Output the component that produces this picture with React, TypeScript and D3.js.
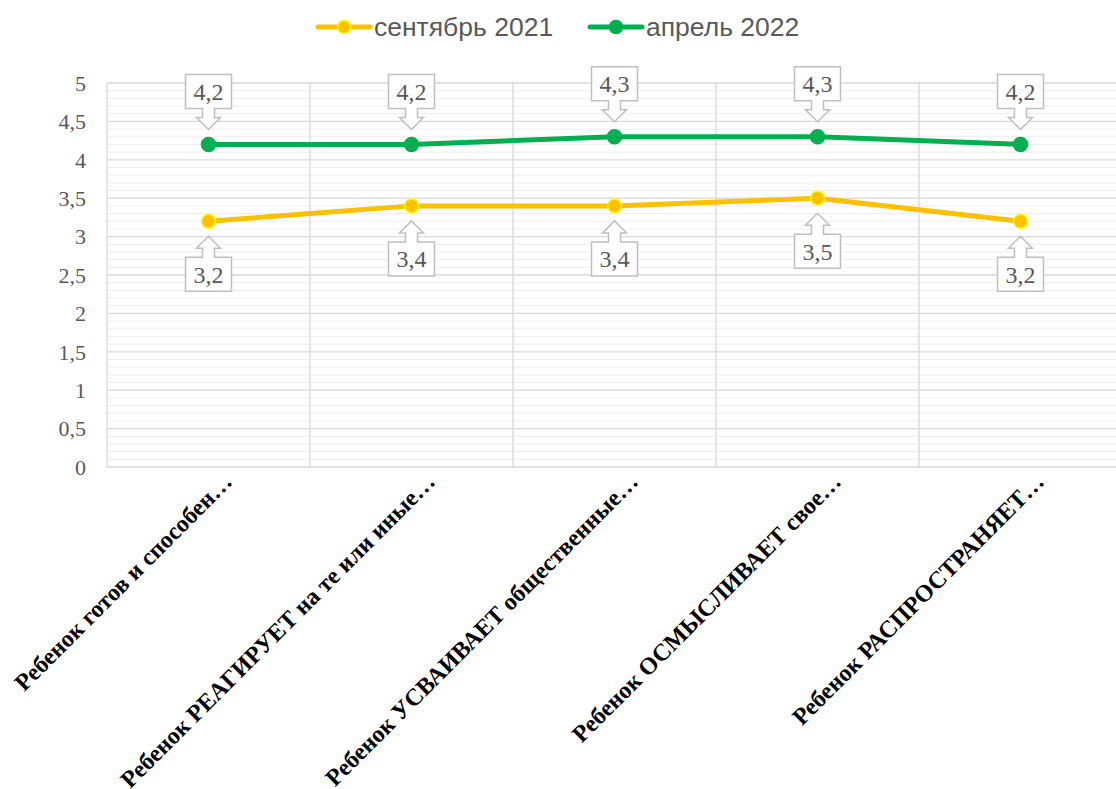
import React from "react";
import * as d3 from "d3";

const categories = [
  "Ребенок готов и способен…",
  "Ребенок РЕАГИРУЕТ на те или иные…",
  "Ребенок УСВАИВАЕТ общественные…",
  "Ребенок ОСМЫСЛИВАЕТ свое…",
  "Ребенок РАСПРОСТРАНЯЕТ…",
];
const sep2021 = [3.2, 3.4, 3.4, 3.5, 3.2];
const apr2022 = [4.2, 4.2, 4.3, 4.3, 4.2];
const yTicks = [0, 0.5, 1, 1.5, 2, 2.5, 3, 3.5, 4, 4.5, 5];
const seriesNames = ["сентябрь 2021", "апрель 2022"];

const W = 1116;
const H = 789;

export default function App() {
  const x = d3.scaleBand<string>().domain(categories).range([107, 1122]);
  const y = d3.scaleLinear().domain([0, 5]).range([467, 83]);
  const cx = (c: string) => (x(c) as number) + x.bandwidth() / 2;
  const line = d3
    .line<number>()
    .x((_, i) => cx(categories[i]))
    .y((d) => y(d));
  const minor = d3.range(0, 50).map((i) => i / 10).filter((v) => Math.round(v * 10) % 5 !== 0);
  const fmt = (v: number) => String(v).replace(".", ",");

  const callout = (px: number, py: number, up: boolean) => {
    const s = up ? -1 : 1;
    const tip = py + s * 15;
    const headEnd = tip + s * 12;
    const boxNear = headEnd + s * 9;
    const boxFar = boxNear + s * 34;
    const bw = 23, hw = 12, sw = 6;
    const d = [
      [px - bw, boxFar], [px + bw, boxFar], [px + bw, boxNear], [px + sw, boxNear],
      [px + sw, headEnd], [px + hw, headEnd], [px, tip], [px - hw, headEnd],
      [px - sw, headEnd], [px - sw, boxNear], [px - bw, boxNear],
    ];
    const path = "M" + d.map((p) => p.join(",")).join("L") + "Z";
    const ty = (boxNear + boxFar) / 2;
    return { path, tx: px, ty };
  };

  const series = [
    { name: seriesNames[0], data: sep2021, color: "#FFC000", stroke: "#FFFF00", up: false, lx: 318 },
    { name: seriesNames[1], data: apr2022, color: "#00B050", stroke: "#00B050", up: true, lx: 590 },
  ];

  return (
    <svg width={W} height={H} style={{ position: "absolute", left: 0, top: 0, background: "#fff" }}>
      {minor.map((v) => (
        <line key={"m" + v} x1={107} x2={1122} y1={y(v)} y2={y(v)} stroke="#EEEEEE" strokeWidth={1} />
      ))}
      {yTicks.map((v) => (
        <line key={"g" + v} x1={107} x2={1122} y1={y(v)} y2={y(v)} stroke="#D9D9D9" strokeWidth={1.3} />
      ))}
      {categories.map((c) => (
        <line key={"v" + c} x1={x(c) as number} x2={x(c) as number} y1={y(5)} y2={y(0)} stroke="#D9D9D9" strokeWidth={1.3} />
      ))}
      {yTicks.map((v) => (
        <text key={"t" + v} x={86} y={y(v)} dy="0.35em" textAnchor="end" fontFamily="Liberation Serif" fontSize={22} fill="#595959">
          {fmt(v)}
        </text>
      ))}
      {categories.map((c) => (
        <text
          key={"x" + c}
          transform={`translate(${cx(c) + 25},${483}) rotate(-45)`}
          textAnchor="end"
          fontFamily="Liberation Serif"
          fontWeight="bold"
          fontSize={24}
          fill="#000"
        >
          {c}
        </text>
      ))}
      {series.map((s) => (
        <g key={s.name}>
          <path d={line(s.data) as string} fill="none" stroke={s.color} strokeWidth={5} strokeLinejoin="round" />
          {s.data.map((v, i) => (
            <circle key={i} cx={cx(categories[i])} cy={y(v)} r={7} fill={s.color} stroke={s.stroke} strokeWidth={1.5} />
          ))}
        </g>
      ))}
      {series.map((s) =>
        s.data.map((v, i) => {
          const c = callout(cx(categories[i]), y(v), s.up);
          return (
            <g key={s.name + i}>
              <path d={c.path} fill="#fff" stroke="#BFBFBF" strokeWidth={1.5} />
              <text x={c.tx} y={c.ty} dy="0.35em" textAnchor="middle" fontFamily="Liberation Serif" fontSize={24} fill="#595959">
                {fmt(v)}
              </text>
            </g>
          );
        })
      )}
      {series.map((s) => (
        <g key={"l" + s.name}>
          <line x1={s.lx} x2={s.lx + 52} y1={27} y2={27} stroke={s.color} strokeWidth={5} strokeLinecap="round" />
          <circle cx={s.lx + 26} cy={27} r={6.5} fill={s.color} stroke={s.stroke} strokeWidth={1.5} />
          <text x={s.lx + 56} y={27} dy="0.35em" fontFamily="Liberation Sans" fontSize={26.5} fill="#595959">
            {s.name}
          </text>
        </g>
      ))}
    </svg>
  );
}
